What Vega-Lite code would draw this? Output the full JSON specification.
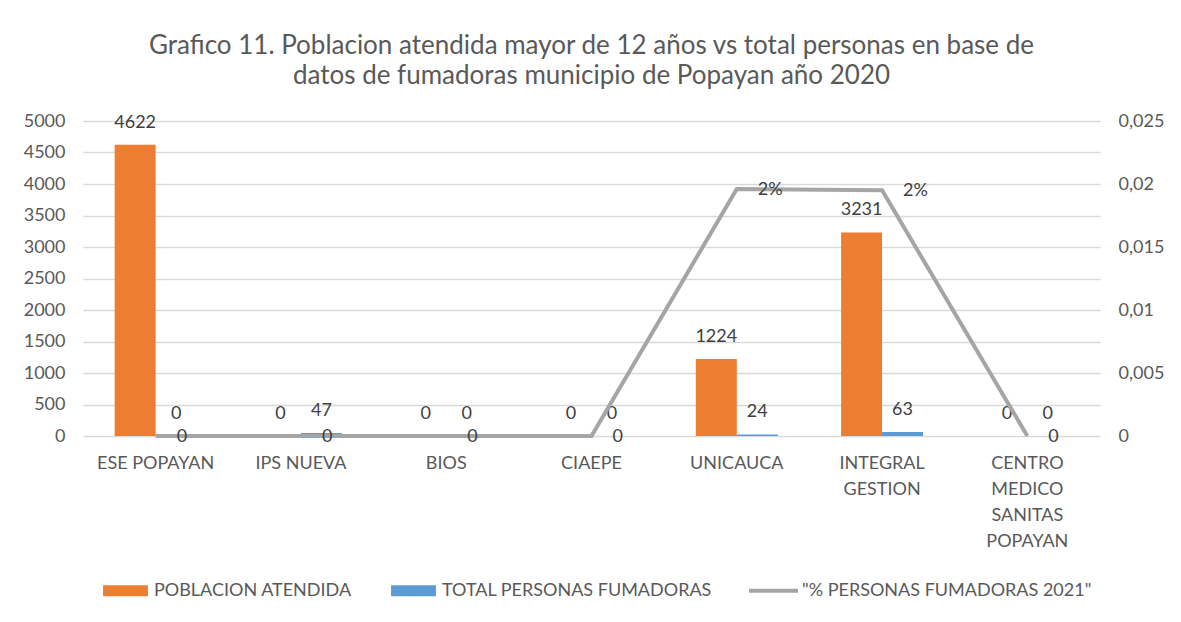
{
  "$schema": "https://vega.github.io/schema/vega-lite/v6.json",
  "width": 1017,
  "height": 315,
  "autosize": "none",
  "padding": {"left": 83, "top": 121, "right": 81, "bottom": 186},
  "background": "white",
  "title": {
    "text": ["Grafico 11. Poblacion atendida mayor de 12 años vs total personas en base de", "datos de fumadoras municipio de Popayan año 2020"],
    "font": "Lato",
    "fontSize": 26,
    "fontWeight": "normal",
    "color": "#595959",
    "lineHeight": 30,
    "offset": 23,
    "anchor": "middle",
    "frame": "group"
  },
  "datasets": {
    "bars": [
      {"entidad": "ESE POPAYAN", "serie": "POBLACION ATENDIDA", "valor": 4622},
      {"entidad": "ESE POPAYAN", "serie": "TOTAL PERSONAS FUMADORAS", "valor": 0},
      {"entidad": "IPS NUEVA", "serie": "POBLACION ATENDIDA", "valor": 0},
      {"entidad": "IPS NUEVA", "serie": "TOTAL PERSONAS FUMADORAS", "valor": 47},
      {"entidad": "BIOS", "serie": "POBLACION ATENDIDA", "valor": 0},
      {"entidad": "BIOS", "serie": "TOTAL PERSONAS FUMADORAS", "valor": 0},
      {"entidad": "CIAEPE", "serie": "POBLACION ATENDIDA", "valor": 0},
      {"entidad": "CIAEPE", "serie": "TOTAL PERSONAS FUMADORAS", "valor": 0},
      {"entidad": "UNICAUCA", "serie": "POBLACION ATENDIDA", "valor": 1224},
      {"entidad": "UNICAUCA", "serie": "TOTAL PERSONAS FUMADORAS", "valor": 24},
      {"entidad": "INTEGRAL GESTION", "serie": "POBLACION ATENDIDA", "valor": 3231},
      {"entidad": "INTEGRAL GESTION", "serie": "TOTAL PERSONAS FUMADORAS", "valor": 63},
      {"entidad": "CENTRO MEDICO SANITAS POPAYAN", "serie": "POBLACION ATENDIDA", "valor": 0},
      {"entidad": "CENTRO MEDICO SANITAS POPAYAN", "serie": "TOTAL PERSONAS FUMADORAS", "valor": 0}
    ],
    "line": [
      {"entidad": "ESE POPAYAN", "pct": 0},
      {"entidad": "IPS NUEVA", "pct": 0},
      {"entidad": "BIOS", "pct": 0},
      {"entidad": "CIAEPE", "pct": 0},
      {"entidad": "UNICAUCA", "pct": 0.0196},
      {"entidad": "INTEGRAL GESTION", "pct": 0.0195},
      {"entidad": "CENTRO MEDICO SANITAS POPAYAN", "pct": 0}
    ]
  },
  "layer": [
    {
      "data": {"name": "bars"},
      "layer": [
        {
          "mark": {"type": "bar"},
          "encoding": {
            "x": {
              "field": "entidad", "type": "nominal",
              "sort": ["ESE POPAYAN", "IPS NUEVA", "BIOS", "CIAEPE", "UNICAUCA", "INTEGRAL GESTION", "CENTRO MEDICO SANITAS POPAYAN"],
              "scale": {"paddingInner": 0.436, "paddingOuter": 0.218},
              "axis": {
                "title": null, "labelAngle": 0, "labelPadding": 18, "labelLineHeight": 26,
                "labelBaseline": "top",
                "labelExpr": "datum.value == 'INTEGRAL GESTION' ? ['INTEGRAL', 'GESTION'] : datum.value == 'CENTRO MEDICO SANITAS POPAYAN' ? ['CENTRO', 'MEDICO', 'SANITAS', 'POPAYAN'] : datum.value"
              }
            },
            "xOffset": {
              "field": "serie", "type": "nominal",
              "sort": ["POBLACION ATENDIDA", "TOTAL PERSONAS FUMADORAS"],
              "scale": {"paddingInner": 0, "paddingOuter": 0}
            },
            "y": {
              "field": "valor", "type": "quantitative",
              "scale": {"domain": [0, 5000], "nice": false},
              "axis": {
                "title": null, "grid": true, "gridColor": "#D9D9D9", "gridWidth": 1.5,
                "values": [0, 500, 1000, 1500, 2000, 2500, 3000, 3500, 4000, 4500, 5000],
                "labelPadding": 18, "format": "d", "labelOverlap": false
              }
            },
            "color": {
              "field": "serie", "type": "nominal",
              "scale": {
                "domain": ["POBLACION ATENDIDA", "TOTAL PERSONAS FUMADORAS", "\"% PERSONAS FUMADORAS 2021\""],
                "range": ["#ED7D31", "#5B9BD5", "#A5A5A5"]
              },
              "legend": {
                "orient": "none", "legendX": 17, "legendY": 444,
                "direction": "horizontal", "title": null,
                "labelFont": "Lato", "labelFontSize": 18, "labelColor": "#595959", "labelLimit": 500,
                "symbolSize": 2601, "labelOffset": 3, "columnPadding": 36,
                "encode": {
                  "symbols": {
                    "update": {
                      "shape": {"signal": "indexof(datum.value, '%') >= 0 ? 'M-0.96,-0.08H0.96V0.08H-0.96Z' : 'M-0.88,-0.216H0.88V0.216H-0.88Z'"},
                      "fill": {"signal": "scale('color', datum.value)"},
                      "strokeWidth": {"value": 0},
                      "opacity": {"value": 1},
                      "fillOpacity": {"value": 1}
                    }
                  }
                }
              }
            }
          }
        },
        {
          "mark": {"type": "text", "dy": -22, "baseline": "middle", "align": "center", "font": "Lato", "fontSize": 18, "color": "#404040"},
          "encoding": {
            "x": {
              "field": "entidad", "type": "nominal",
              "sort": ["ESE POPAYAN", "IPS NUEVA", "BIOS", "CIAEPE", "UNICAUCA", "INTEGRAL GESTION", "CENTRO MEDICO SANITAS POPAYAN"]
            },
            "xOffset": {
              "field": "serie", "type": "nominal",
              "sort": ["POBLACION ATENDIDA", "TOTAL PERSONAS FUMADORAS"]
            },
            "y": {
              "field": "valor", "type": "quantitative",
              "scale": {"domain": [0, 5000], "nice": false},
              "axis": {
                "title": null, "grid": true, "gridColor": "#D9D9D9", "gridWidth": 1.5,
                "values": [0, 500, 1000, 1500, 2000, 2500, 3000, 3500, 4000, 4500, 5000],
                "labelPadding": 18, "format": "d", "labelOverlap": false
              }
            },
            "text": {"field": "valor", "type": "quantitative", "format": "d"}
          }
        }
      ]
    },
    {
      "data": {"name": "line"},
      "layer": [
        {
          "mark": {"type": "line", "strokeWidth": 4, "strokeJoin": "miter"},
          "encoding": {
            "x": {
              "field": "entidad", "type": "nominal",
              "sort": ["ESE POPAYAN", "IPS NUEVA", "BIOS", "CIAEPE", "UNICAUCA", "INTEGRAL GESTION", "CENTRO MEDICO SANITAS POPAYAN"]
            },
            "y": {
              "field": "pct", "type": "quantitative",
              "scale": {"domain": [0, 0.025], "nice": false},
              "axis": {
                "orient": "right", "title": null, "grid": false,
                "values": [0, 0.005, 0.01, 0.015, 0.02, 0.025],
                "labelPadding": 18, "labelOverlap": false,
                "labelExpr": "replace(format(datum.value, '~g'), '.', ',')"
              }
            },
            "color": {"datum": "\"% PERSONAS FUMADORAS 2021\""}
          }
        },
        {
          "mark": {"type": "text", "dx": 21, "dy": 1, "baseline": "middle", "align": "left", "font": "Lato", "fontSize": 18, "color": "#404040"},
          "encoding": {
            "x": {
              "field": "entidad", "type": "nominal",
              "sort": ["ESE POPAYAN", "IPS NUEVA", "BIOS", "CIAEPE", "UNICAUCA", "INTEGRAL GESTION", "CENTRO MEDICO SANITAS POPAYAN"]
            },
            "y": {
              "field": "pct", "type": "quantitative",
              "scale": {"domain": [0, 0.025], "nice": false},
              "axis": {
                "orient": "right", "title": null, "grid": false,
                "values": [0, 0.005, 0.01, 0.015, 0.02, 0.025],
                "labelPadding": 18, "labelOverlap": false,
                "labelExpr": "replace(format(datum.value, '~g'), '.', ',')"
              }
            },
            "text": {
              "condition": {"test": "datum.pct == 0", "value": "0"},
              "field": "pct", "type": "quantitative", "format": ".0%"
            }
          }
        }
      ]
    }
  ],
  "resolve": {"scale": {"y": "independent"}, "axis": {"y": "independent"}},
  "config": {
    "font": "Lato",
    "view": {"stroke": null},
    "axis": {
      "labelFont": "Lato", "labelFontSize": 18, "labelColor": "#595959",
      "domain": false, "ticks": false, "tickSize": 0, "titleFontSize": 0
    }
  }
}
